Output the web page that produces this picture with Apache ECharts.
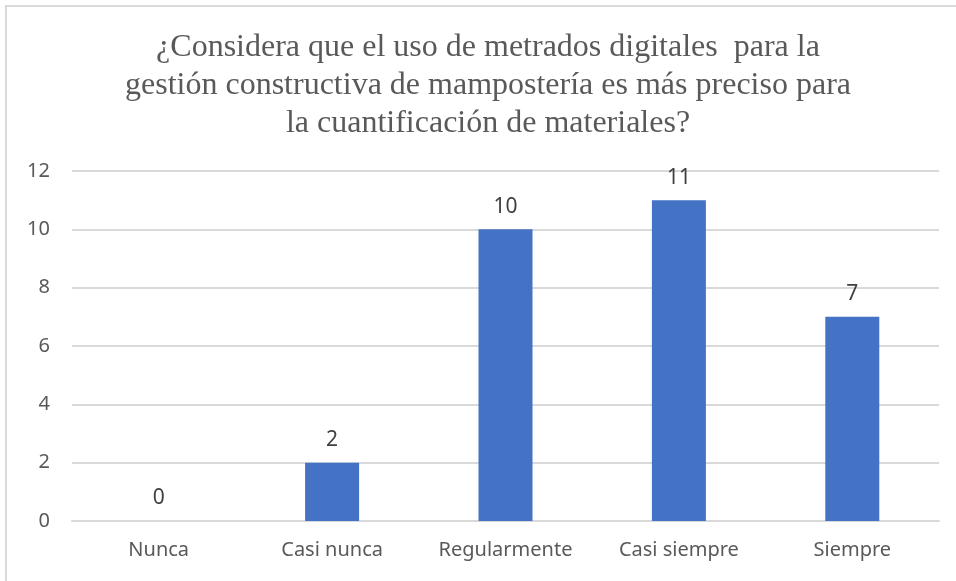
<!DOCTYPE html>
<html>
<head>
<meta charset="utf-8">
<script src="https://cdn.jsdelivr.net/npm/echarts@6/dist/echarts.min.js"></script>
<style>
  html, body { margin: 0; padding: 0; background: #fff; }
  #frame { position: absolute; left: 5px; top: 5px; width: 960px; height: 590px; border: 2px solid #d9d9d9; box-sizing: border-box; }
  #chart { position: absolute; left: 0; top: 0; width: 956px; height: 581px; }
</style>
</head>
<body>
<div id="frame"></div>
<div id="chart"></div>
<script>
var titleText = '¿Considera que el uso de metrados digitales  para la\ngestión constructiva de mampostería es más preciso para\nla cuantificación de materiales?';
var categories = ['Nunca', 'Casi nunca', 'Regularmente', 'Casi siempre', 'Siempre'];
var values = [0, 2, 10, 11, 7];

var myChart = echarts.init(document.getElementById('chart'));

var option = {
    animation: false,
    title: {
        text: titleText,
        left: 483,
        textAlign: 'center',
        top: 24,
        textStyle: {
            fontFamily: 'Liberation Serif',
            fontSize: 32,
            fontWeight: 'normal',
            color: '#595959',
            lineHeight: 38
        }
    },
    grid: {
        left: 72,
        right: 17,
        top: 171,
        bottom: 60
    },
    xAxis: {
        type: 'category',
        data: categories,
        axisLine: { show: true, lineStyle: { color: '#d9d9d9', width: 2 } },
        axisTick: { show: false },
        axisLabel: {
            interval: 0,
            margin: 19,
            fontFamily: 'Noto Sans',
            fontSize: 20,
            color: '#595959'
        }
    },
    yAxis: {
        type: 'value',
        min: 0,
        max: 12,
        interval: 2,
        axisLine: { show: false },
        axisTick: { show: false },
        splitLine: { lineStyle: { color: '#d9d9d9', width: 2 } },
        axisLabel: {
            margin: 22,
            fontFamily: 'Noto Sans',
            fontSize: 20,
            color: '#595959'
        }
    },
    series: [{
        type: 'bar',
        data: values,
        barWidth: 54,
        itemStyle: { color: '#4472c4' },
        label: {
            show: true,
            position: 'top',
            distance: 12,
            fontFamily: 'Noto Sans',
            fontSize: 21,
            color: '#404040'
        }
    }]
};

myChart.setOption(option);
</script>
</body>
</html>
